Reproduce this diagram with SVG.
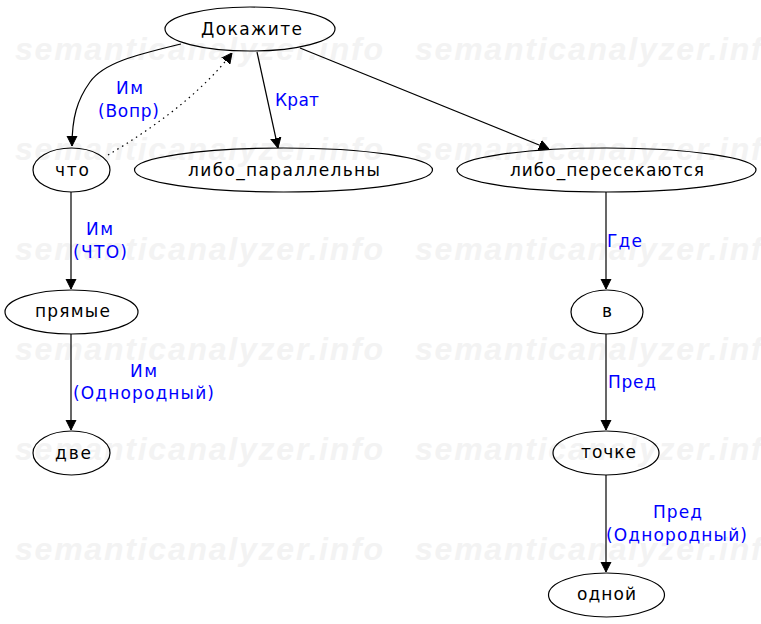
<svg xmlns="http://www.w3.org/2000/svg" width="761" height="624" viewBox="0 0 761 624">
<style>
.wm{font-family:"Liberation Sans",Arial,sans-serif;font-weight:bold;font-style:italic;font-size:32px;fill:#f3f3f3}
.n ellipse{fill:none;stroke:#000;stroke-width:1.2}
.n text{font-family:"DejaVu Sans",sans-serif;font-size:17px;fill:#000;text-anchor:middle}
.e path{fill:none;stroke:#000;stroke-width:1.2}
.lbl{font-family:"DejaVu Sans",sans-serif;font-size:17px;fill:#0000ff;text-anchor:middle}
.lbl.l{text-anchor:start}
</style>
<defs>
<marker id="ah" markerWidth="10" markerHeight="14" refX="10" refY="5" orient="auto" markerUnits="userSpaceOnUse" viewBox="0 0 10 10">
<path d="M0,0 L10,5 L0,10 z" fill="#000" stroke="#000"/>
</marker>
</defs>
<rect width="761" height="624" fill="#fff"/>
<g id="watermark">
<text class="wm" x="15" y="60" textLength="368">semanticanalyzer.info</text>
<text class="wm" x="415" y="60" textLength="368">semanticanalyzer.info</text>
<text class="wm" x="15" y="160" textLength="368">semanticanalyzer.info</text>
<text class="wm" x="415" y="160" textLength="368">semanticanalyzer.info</text>
<text class="wm" x="15" y="260" textLength="368">semanticanalyzer.info</text>
<text class="wm" x="415" y="260" textLength="368">semanticanalyzer.info</text>
<text class="wm" x="15" y="360" textLength="368">semanticanalyzer.info</text>
<text class="wm" x="415" y="360" textLength="368">semanticanalyzer.info</text>
<text class="wm" x="15" y="460" textLength="368">semanticanalyzer.info</text>
<text class="wm" x="415" y="460" textLength="368">semanticanalyzer.info</text>
<text class="wm" x="15" y="560" textLength="368">semanticanalyzer.info</text>
<text class="wm" x="415" y="560" textLength="368">semanticanalyzer.info</text>
</g>
<g id="connectors" class="e">
<path d="M181,44 C140,54 104,62 90,82 C77,100 72,118 72,146" marker-end="url(#ah)"/>
<path d="M108,155 C150,130 200,95 232,53" stroke-dasharray="1.5,4" marker-end="url(#ah)"/>
<path d="M257,52 L278,148" marker-end="url(#ah)"/>
<path d="M300,48 L549,149" marker-end="url(#ah)"/>
<path d="M71,192 L71,289" marker-end="url(#ah)"/>
<path d="M71,334 L71,430" marker-end="url(#ah)"/>
<path d="M606,192 L606,289" marker-end="url(#ah)"/>
<path d="M606,334 L606,430" marker-end="url(#ah)"/>
<path d="M606,475 L606,572" marker-end="url(#ah)"/>
<text class="lbl" x="129.5" y="94" textLength="27">Им</text>
<text class="lbl" x="128.5" y="117" textLength="61">(Вопр)</text>
<text class="lbl l" x="275" y="106" textLength="44">Крат</text>
<text class="lbl" x="99.5" y="235" textLength="27">Им</text>
<text class="lbl" x="100" y="258" textLength="54">(ЧТО)</text>
<text class="lbl" x="143.5" y="377" textLength="27">Им</text>
<text class="lbl" x="143.5" y="399" textLength="141">(Однородный)</text>
<text class="lbl l" x="607" y="247" textLength="35">Где</text>
<text class="lbl l" x="608" y="388" textLength="48">Пред</text>
<text class="lbl" x="677.5" y="518" textLength="49">Пред</text>
<text class="lbl" x="676.5" y="541" textLength="141">(Однородный)</text>
</g>
<g id="n-dokazhite" class="n"><ellipse cx="250" cy="29" rx="85" ry="22"/><text x="251.5" y="35" textLength="101">Докажите</text></g>
<g id="n-chto" class="n"><ellipse cx="71.5" cy="170" rx="38.5" ry="22"/><text x="72" y="176" textLength="34">что</text></g>
<g id="n-libo-par" class="n"><ellipse cx="283.5" cy="170" rx="149" ry="22"/><text x="284" y="176" textLength="192">либо_параллельны</text></g>
<g id="n-libo-per" class="n"><ellipse cx="606.5" cy="170" rx="149.5" ry="22"/><text x="607" y="176" textLength="194">либо_пересекаются</text></g>
<g id="n-pryamye" class="n"><ellipse cx="71.5" cy="312" rx="66.5" ry="22"/><text x="72.5" y="317" textLength="75">прямые</text></g>
<g id="n-dve" class="n"><ellipse cx="71.5" cy="453" rx="38.5" ry="22"/><text x="73" y="459" textLength="36">две</text></g>
<g id="n-v" class="n"><ellipse cx="607" cy="312" rx="36" ry="22"/><text x="607" y="317" textLength="8">в</text></g>
<g id="n-tochke" class="n"><ellipse cx="606" cy="453" rx="53" ry="22"/><text x="608.5" y="458" textLength="55">точке</text></g>
<g id="n-odnoy" class="n"><ellipse cx="606.5" cy="595" rx="58" ry="22"/><text x="606.5" y="600" textLength="59">одной</text></g>
</svg>
